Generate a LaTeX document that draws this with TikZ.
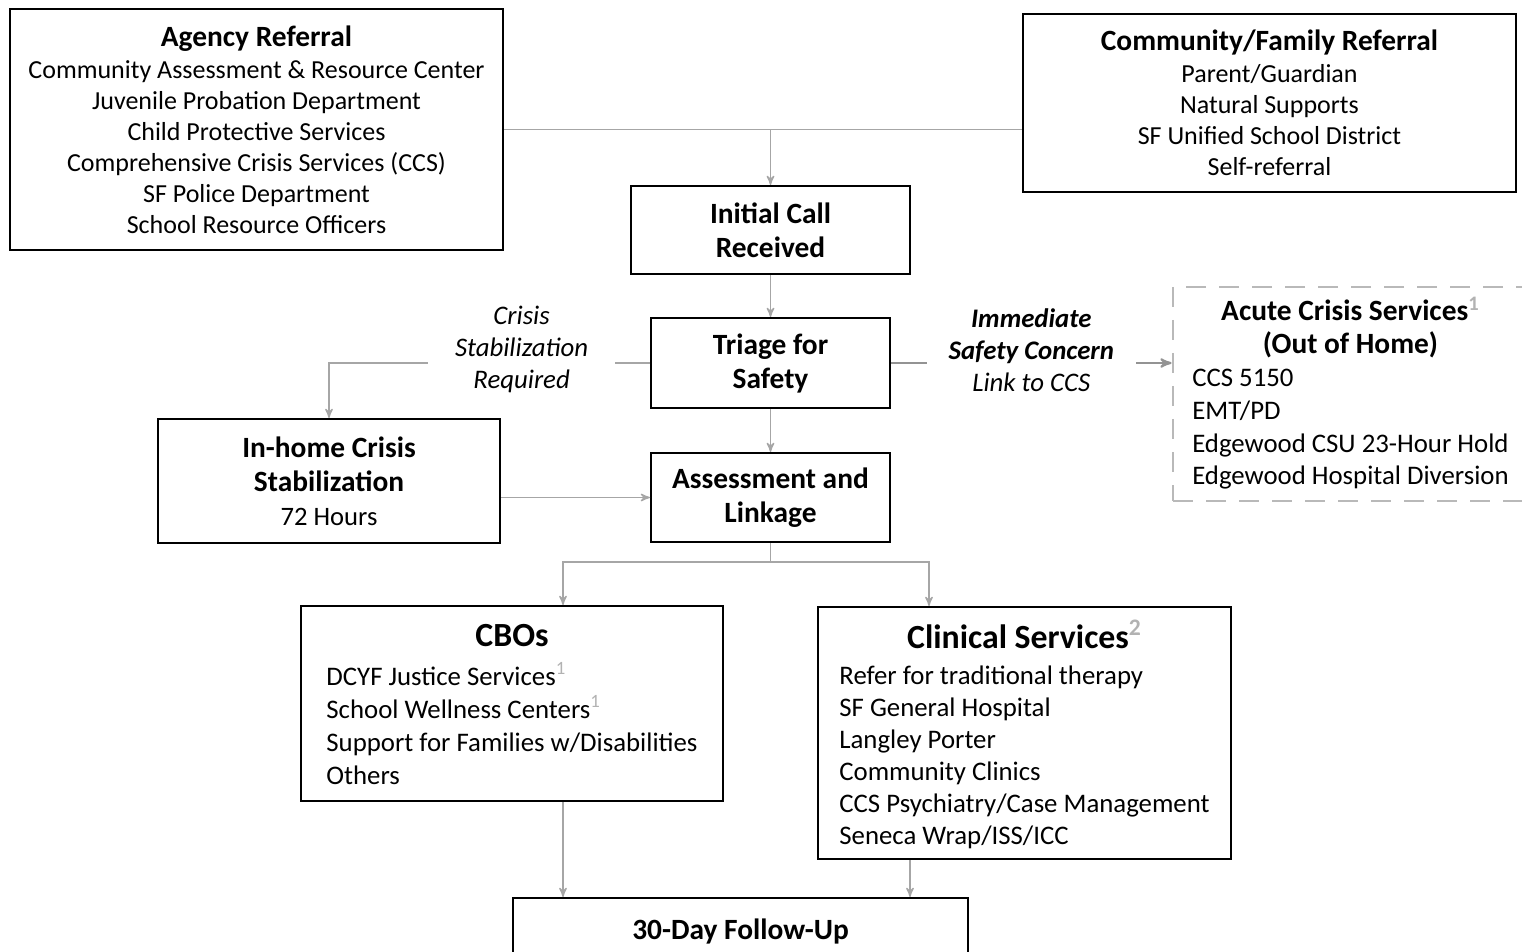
\documentclass[tikz,border=0pt]{standalone}
\usepackage{fontspec}
\setmainfont{Carlito}
\usepackage{tikz}
\usetikzlibrary{positioning}
\usetikzlibrary{arrows}

\newcommand{\hd}[1]{{\fontsize{14.7}{17}\selectfont\bfseries #1}}
\newcommand{\bighd}[1]{{\fontsize{16.9}{19}\selectfont\bfseries #1}}
\newcommand{\fnote}[1]{\textsuperscript{\color{gray!60}#1}}

\begin{document}
\begin{tikzpicture}[x=0.5pt,y=-0.5pt,>=stealth',
                    box/.style={draw,line width=1pt,align=center,inner sep=0pt,
                                font=\fontsize{13}{15.5}\selectfont},
                    link/.style={draw=gray!70,line width=0.7pt,->},
                    bare/.style={draw=gray!70,line width=0.7pt},
                    tag/.style={fill=white,align=center,inner ysep=2pt,
                                font=\fontsize{13.4}{16}\selectfont\itshape}]
   \useasboundingbox (0,0) rectangle (1522,952);
   \clip (0,0) rectangle (1522,952);
   % referral sources
   \node[box,minimum width=246.5pt,minimum height=120.5pt] (agency) at (256.5,129.5)
        {\hd{Agency Referral}\\[0.5pt] Community Assessment \& Resource Center\\
         Juvenile Probation Department\\ Child Protective Services\\
         Comprehensive Crisis Services (CCS)\\ SF Police Department\\
         School Resource Officers};
   \node[box,minimum width=246.5pt,minimum height=89pt] (family) at (1269.5,103)
        {\hd{Community/Family Referral}\\[0.5pt] Parent/Guardian\\ Natural Supports\\
         SF Unified School District\\ Self-referral};
   % intake
   \node[box,minimum width=139.5pt,minimum height=44pt,font=\fontsize{14.7}{17}\selectfont\bfseries]
        (call) at (770.5,230) {Initial Call\\ Received};
   \node[box,minimum width=119.5pt,minimum height=45pt,font=\fontsize{14.7}{17}\selectfont\bfseries]
        (triage) at (770.5,363) {Triage for\\ Safety};
   \node[box,minimum width=171pt,minimum height=62pt,font=\fontsize{14.7}{17}\selectfont]
        (inhome) at (329,481) {\textbf{In-home Crisis}\\ \textbf{Stabilization}\\
        {\fontsize{13.3}{15.5}\selectfont 72 Hours}};
   \node[box,minimum width=119.5pt,minimum height=44.5pt,font=\fontsize{14.7}{17}\selectfont\bfseries]
        (assess) at (770.5,497.5) {Assessment and\\ Linkage};
   \node[box,draw=gray!55,line width=1.4pt,dash pattern=on 10pt off 6.5pt,
         minimum width=177.5pt,minimum height=107pt,font=\fontsize{13.4}{16.4}\selectfont]
        (acute) at (1350.5,394)
        {\begin{tabular}{@{}l@{}}
         \multicolumn{1}{@{}c@{}}{\hd{Acute Crisis Services\fnote{1}}}\\
         \multicolumn{1}{@{}c@{}}{\hd{(Out of Home)}}\\
         CCS 5150\\ EMT/PD\\ Edgewood CSU 23-Hour Hold\\ Edgewood Hospital Diversion\\[-2pt]
         \end{tabular}};
   % services
   \node[box,minimum width=211pt,minimum height=97.5pt,font=\fontsize{13.4}{16.5}\selectfont]
        (cbo) at (512,703.5)
        {\begin{tabular}{@{}l@{}}
         \multicolumn{1}{@{}c@{}}{\bighd{CBOs}}\\[3pt]
         DCYF Justice Services\fnote{1}\\ School Wellness Centers\fnote{1}\\
         Support for Families w/Disabilities\\ Others\\[-5pt]
         \end{tabular}};
   \node[box,minimum width=206.5pt,minimum height=126pt,font=\fontsize{13.4}{16}\selectfont]
        (clinic) at (1024.5,733)
        {\begin{tabular}{@{}l@{}}
         \multicolumn{1}{@{}c@{}}{\bighd{Clinical Services\fnote{2}}}\\[2pt]
         Refer for traditional therapy\\ SF General Hospital\\ Langley Porter\\
         Community Clinics\\ CCS Psychiatry/Case Management\\ Seneca Wrap/ISS/ICC\\[-4pt]
         \end{tabular}};
   \node[box,anchor=north,minimum width=227.5pt,text height=20.5pt,text depth=40pt]
        (follow) at (740.5,897) {\hd{30-Day Follow-Up}};

   \coordinate (merge) at (agency.east -| call.north);
   \coordinate (split) at (assess.south |- 0,562);
   \path (agency.east) edge[bare] (agency.east -| family.west)
         (assess.south) edge[bare] (split);
   \path
    (merge) edge[link] (call)
    (call) edge[link] (triage)
    (triage) edge[link] (assess)
    (inhome.east |- assess.west) edge[link] (assess.west)
    (563,0 |- cbo.south) edge[link] (563,0 |- follow.north)
    (910,0 |- clinic.south) edge[link] (910,0 |- follow.north);
   \draw[link] (split) -| (563,0 |- cbo.north);
   \draw[link] (split) -| (929,0 |- clinic.north);
   \draw[link] (triage.west) -| (inhome.north)
        node[tag,inner xsep=13.5pt,pos=0.2,yshift=7pt] {Crisis\\ Stabilization\\ Required};
   \draw[link,draw=gray!85,line width=1pt] (triage.east) -- (acute.west |- triage.east)
        node[tag,inner xsep=11pt,pos=0.5,yshift=6.5pt]
        {\textbf{Immediate}\\ \textbf{Safety Concern}\\ Link to CCS};
\end{tikzpicture}
\end{document}
